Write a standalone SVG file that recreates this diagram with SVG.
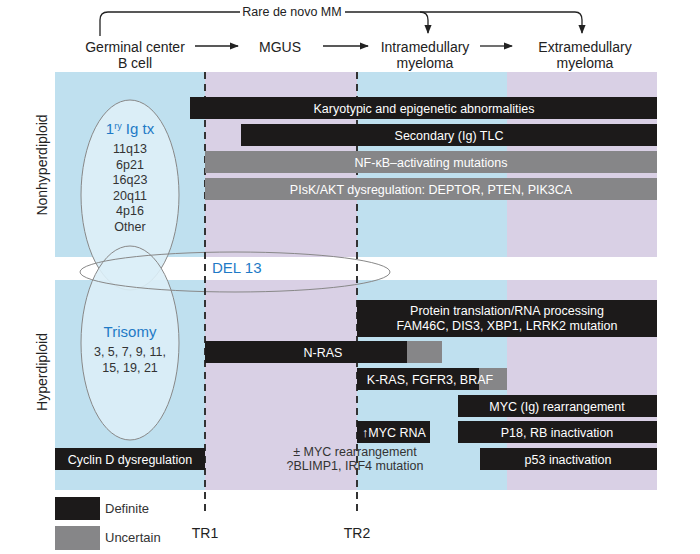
<svg xmlns="http://www.w3.org/2000/svg" width="700" height="554" viewBox="0 0 700 554">
<defs>
<marker id="ah" viewBox="0 0 10 10" refX="9" refY="5" markerWidth="7" markerHeight="7" orient="auto"><path d="M0,1 L10,5 L0,9 z" fill="#222"/></marker>
<style>
text{font-family:"Liberation Sans",Arial,sans-serif;}
.hd{font-size:14px;fill:#222;text-anchor:middle}
.bk{fill:#1c1a1a}
.gr{fill:#868688}
.bt{font-size:12.5px;fill:#fff;text-anchor:middle}
.el{font-size:12.5px;fill:#333;text-anchor:middle}
.bl{fill:#1e7ac6}
.dash{stroke:#333;stroke-width:2;stroke-dasharray:7,5}
</style>
</defs>
<rect width="700" height="554" fill="#fff"/>
<g id="background">
<rect x="55" y="72" width="150" height="418" fill="#bfe0ef"/>
<rect x="205" y="72" width="152" height="418" fill="#d9d0e5"/>
<rect x="357" y="72" width="150" height="418" fill="#bfe0ef"/>
<rect x="507" y="72" width="150" height="418" fill="#d9d0e5"/>
<rect x="55" y="257" width="602" height="23" fill="#fff"/>
</g>
<g id="header">
<text class="hd" x="135" y="52">Germinal center</text>
<text class="hd" x="135" y="68">B cell</text>
<text class="hd" x="280" y="52">MGUS</text>
<text class="hd" x="425" y="52">Intramedullary</text>
<text class="hd" x="425" y="68">myeloma</text>
<text class="hd" x="585" y="52">Extramedullary</text>
<text class="hd" x="585" y="68">myeloma</text>
<text x="292" y="16" style="font-size:12.5px;fill:#222;text-anchor:middle">Rare de novo MM</text>
</g>
<g id="connectors" fill="none" stroke="#222" stroke-width="1.3">
<path d="M100,36 V20 Q100,12 108,12 H240"/>
<path d="M345,12 H575 Q582,12 582,20 V33" marker-end="url(#ah)"/>
<path d="M420,12 Q428,12 428,20 V33" marker-end="url(#ah)"/>
<path d="M195,46 H238" marker-end="url(#ah)"/>
<path d="M323,46 H368" marker-end="url(#ah)"/>
<path d="M480,46 H512" marker-end="url(#ah)"/>
</g>
<g id="ellipses" stroke="#888" stroke-width="1">
<ellipse cx="130" cy="195" rx="49" ry="95" fill="#dbeef7"/>
<ellipse cx="130" cy="343" rx="49" ry="97" fill="#dbeef7" fill-opacity="0.9"/>
<ellipse cx="235" cy="272" rx="155" ry="20" fill="none"/>
</g>
<g id="ellipse-text">
<text x="130" y="134" style="font-size:15px;text-anchor:middle" class="bl">1<tspan font-size="9" dy="-5">ry</tspan><tspan dy="5"> Ig tx</tspan></text>
<text class="el" x="130" y="153">11q13</text>
<text class="el" x="130" y="169">6p21</text>
<text class="el" x="130" y="184">16q23</text>
<text class="el" x="130" y="200">20q11</text>
<text class="el" x="130" y="215">4p16</text>
<text class="el" x="130" y="231">Other</text>
<text x="130" y="337" style="font-size:15px;text-anchor:middle" class="bl">Trisomy</text>
<text class="el" x="130" y="356">3, 5, 7, 9, 11,</text>
<text class="el" x="130" y="372">15, 19, 21</text>
<text x="212" y="273" style="font-size:15px" class="bl">DEL 13</text>
</g>
<g id="axes">
<line class="dash" x1="205" y1="72" x2="205" y2="515"/>
<line class="dash" x1="357" y1="72" x2="357" y2="515"/>
<text class="hd" x="205" y="538">TR1</text>
<text class="hd" x="357" y="538">TR2</text>
<text transform="translate(47,165) rotate(-90)" class="hd">Nonhyperdiploid</text>
<text transform="translate(47,372) rotate(-90)" class="hd">Hyperdiploid</text>
</g>
<g id="bars">
<rect class="bk" x="190" y="97" width="467" height="22"/><text class="bt" x="424" y="113">Karyotypic and epigenetic abnormalities</text>
<rect class="bk" x="241" y="124" width="416" height="22"/><text class="bt" x="449" y="140">Secondary (Ig) TLC</text>
<rect class="gr" x="205" y="151" width="452" height="22"/><text class="bt" x="431" y="167">NF-κB–activating mutations</text>
<rect class="gr" x="205" y="178" width="452" height="22"/><text class="bt" x="431" y="194">PIsK/AKT dysregulation: DEPTOR, PTEN, PIK3CA</text>
<rect class="bk" x="357" y="300" width="300" height="37"/><text class="bt" x="507" y="315">Protein translation/RNA processing</text><text class="bt" x="507" y="330">FAM46C, DIS3, XBP1, LRRK2 mutation</text>
<rect class="bk" x="205" y="341" width="202" height="22"/><rect class="gr" x="407" y="341" width="35" height="22"/><text class="bt" x="323" y="357">N-RAS</text>
<rect class="bk" x="357" y="368" width="122" height="22"/><rect class="gr" x="479" y="368" width="28" height="22"/><text class="bt" x="430" y="384">K-RAS, FGFR3, BRAF</text>
<rect class="bk" x="458" y="395" width="199" height="22"/><text class="bt" x="557" y="411">MYC (Ig) rearrangement</text>
<rect class="bk" x="357" y="421" width="73" height="22"/><text class="bt" x="394" y="437">↑MYC RNA</text>
<rect class="bk" x="458" y="421" width="199" height="22"/><text class="bt" x="557" y="437">P18, RB inactivation</text>
<rect class="bk" x="480" y="448" width="177" height="22"/><text class="bt" x="568" y="464">p53 inactivation</text>
<rect class="bk" x="55" y="448" width="150" height="22"/><text class="bt" x="130" y="464">Cyclin D dysregulation</text>
<text class="el" x="355" y="456">± MYC rearrangement</text>
<text class="el" x="355" y="470">?BLIMP1, IRF4 mutation</text>
</g>
<g id="legend">
<rect class="bk" x="55" y="497" width="45" height="23"/><text x="105" y="513" style="font-size:13px;fill:#333">Definite</text>
<rect class="gr" x="55" y="526" width="45" height="24"/><text x="105" y="542" style="font-size:13px;fill:#333">Uncertain</text>
</g>
</svg>
